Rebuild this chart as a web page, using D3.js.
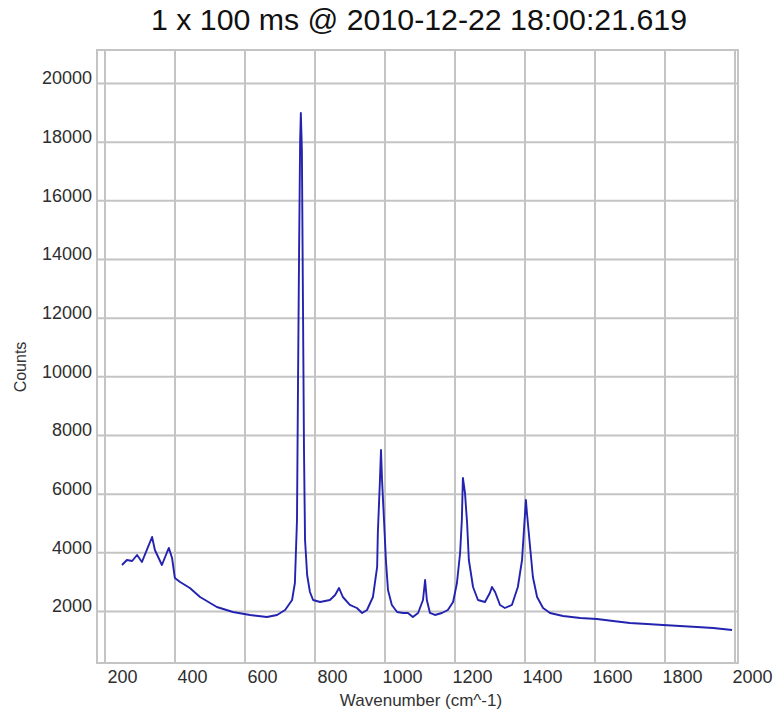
<!DOCTYPE html>
<head>
  <meta charset="utf-8">
  <script src="https://d3js.org/d3.v7.min.js"></script>
  <style>
    body {
      margin: 0;
      background-color: #fff;
    }
    .grid line { stroke: #c4c4c4; stroke-width: 2px; }
    .grid path { display: none; }
    .ticks text { font: 18px "Liberation Sans", Arial, sans-serif; fill: #2e2e2e; }
    .ticks path, .ticks line { display: none; }
  </style>
</head>
<body>
  <script>
    // spectrum
    var wavenumber = [200, 214, 229, 243, 257, 271, 286, 294, 314, 329, 334, 343, 351, 366, 394, 423, 471, 517, 566, 614,
      643, 666, 686, 694, 700, 703, 706, 709, 711, 714, 717, 720, 723, 729, 737, 746, 766, 794, 809, 820,
      831, 851, 871, 886, 900, 917, 929, 931, 937, 940, 943, 949, 954, 960, 971, 986, 1003, 1017, 1031, 1046,
      1060, 1066, 1071, 1080, 1094, 1114, 1131, 1146, 1157, 1166, 1171, 1174, 1180, 1186, 1191, 1203, 1217, 1237, 1251, 1257,
      1266, 1280, 1294, 1314, 1331, 1343, 1349, 1354, 1357, 1366, 1374, 1386, 1403, 1423, 1460, 1509, 1557, 1603, 1651, 1700,
      1746, 1794, 1843, 1889, 1943];
    var counts = [3568, 3739, 3705, 3909, 3670, 4080, 4523, 4080, 3568, 4011, 4148, 3807, 3125, 2989, 2784, 2477, 2136, 1966, 1864, 1795,
      1864, 2034, 2375, 2955, 5102, 9875, 14306, 18056, 18977, 17716, 12602, 7489, 4420, 3227, 2648, 2375, 2307, 2375, 2545, 2784,
      2477, 2205, 2102, 1932, 2034, 2477, 3500, 4659, 6466, 7489, 6466, 5000, 3739, 2716, 2205, 1966, 1932, 1932, 1795, 1932,
      2375, 3057, 2375, 1932, 1864, 1932, 2034, 2307, 2955, 3977, 5102, 6534, 6023, 5000, 3739, 2818, 2375, 2307, 2614, 2818,
      2648, 2205, 2102, 2205, 2818, 3739, 4864, 5784, 5341, 4182, 3159, 2477, 2102, 1932, 1830, 1761, 1727, 1659, 1591, 1557,
      1523, 1489, 1455, 1420, 1352];

    var xTickLabels = [200, 400, 600, 800, 1000, 1200, 1400, 1600, 1800, 2000];
    var xGridValues = [150, 350, 550, 750, 950, 1150, 1350, 1550, 1750, 1950];
    var yTickLabels = [2000, 4000, 6000, 8000, 10000, 12000, 14000, 16000, 18000, 20000];

    var width = 775,
        height = 714;
    var frame = { left: 97, right: 738, top: 50, bottom: 663 };

    var svg = d3.select("body").append("svg")
      .attr("width", width)
      .attr("height", height);

    var x = d3.scaleLinear()
      .domain([128.6, 1960])
      .range([frame.left, frame.right]);

    var y = d3.scaleLinear()
      .domain([227, 21125])
      .range([frame.bottom, frame.top]);

    // grid
    svg.append("g")
      .attr("class", "grid")
      .attr("transform", "translate(0," + frame.bottom + ")")
      .call(d3.axisBottom(x).tickValues(xGridValues).tickSize(-(frame.bottom - frame.top)).tickFormat(""));

    svg.append("g")
      .attr("class", "grid")
      .attr("transform", "translate(" + frame.left + ",0)")
      .call(d3.axisLeft(y).tickValues(yTickLabels).tickSize(-(frame.right - frame.left)).tickFormat(""));

    svg.append("rect")
      .attr("x", frame.left)
      .attr("y", frame.top)
      .attr("width", frame.right - frame.left)
      .attr("height", frame.bottom - frame.top)
      .attr("fill", "none")
      .attr("stroke", "#c4c4c4")
      .attr("stroke-width", 2);

    // tick labels
    svg.append("g")
      .attr("class", "ticks")
      .attr("transform", "translate(0," + frame.bottom + ")")
      .call(d3.axisBottom(x).tickValues(xTickLabels).tickSize(0).tickPadding(7).tickFormat(d3.format("d")));

    svg.append("g")
      .attr("class", "ticks")
      .attr("transform", "translate(" + (frame.left - 5) + ",-5)")
      .call(d3.axisLeft(y).tickValues(yTickLabels).tickSize(0).tickPadding(0).tickFormat(d3.format("d")));

    // the spectrum
    var line = d3.line()
      .x(function(d, i) { return x(wavenumber[i]); })
      .y(function(d) { return y(d); });

    svg.append("path")
      .datum(counts)
      .attr("d", line)
      .attr("fill", "none")
      .attr("stroke", "#2323b0")
      .attr("stroke-width", 1.9)
      .attr("stroke-linejoin", "round");

    // titles
    svg.append("text")
      .attr("x", 419)
      .attr("y", 30)
      .attr("text-anchor", "middle")
      .attr("textLength", 536)
      .attr("lengthAdjust", "spacingAndGlyphs")
      .style("font", "29px 'Liberation Sans', Arial, sans-serif")
      .style("fill", "#111")
      .text("1 x 100 ms @ 2010-12-22 18:00:21.619");

    svg.append("text")
      .attr("x", 421)
      .attr("y", 706)
      .attr("text-anchor", "middle")
      .style("font", "17px 'Liberation Sans', Arial, sans-serif")
      .style("fill", "#333")
      .text("Wavenumber (cm^-1)");

    svg.append("text")
      .attr("transform", "translate(26,367) rotate(-90)")
      .attr("text-anchor", "middle")
      .style("font", "16px 'Liberation Sans', Arial, sans-serif")
      .style("fill", "#333")
      .text("Counts");
  </script>
</body>
